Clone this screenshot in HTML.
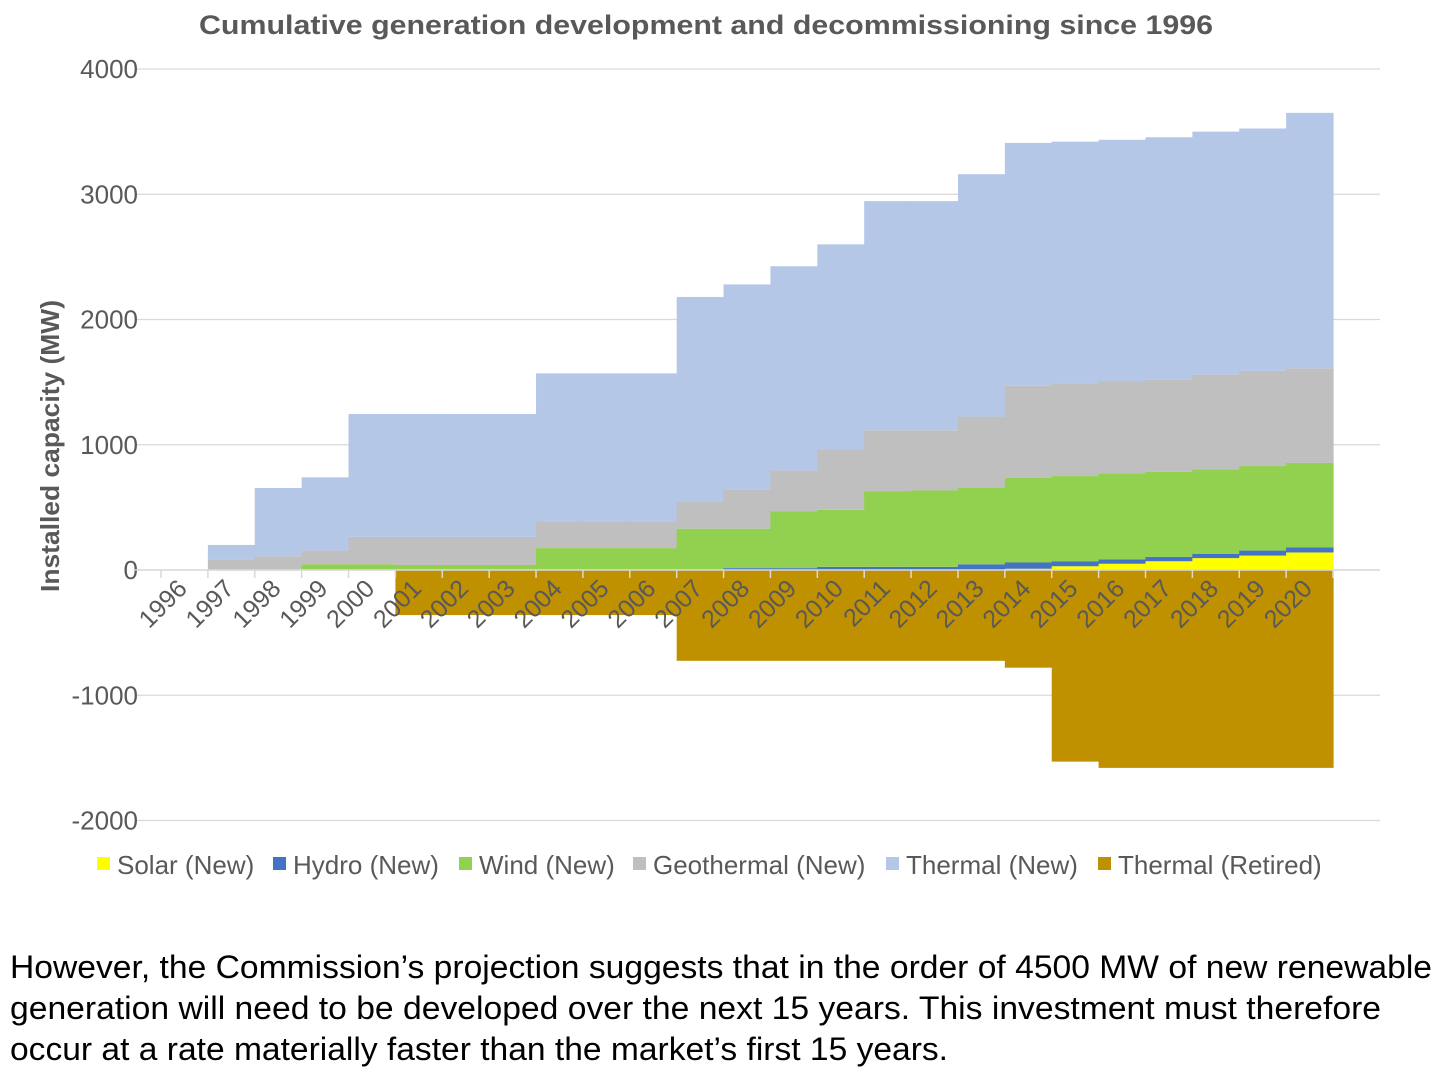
<!DOCTYPE html>
<html><head><meta charset="utf-8"><style>
body{margin:0;background:#fff;width:1456px;height:1084px;overflow:hidden;font-family:"Liberation Sans",sans-serif}
</style></head><body>
<svg id="chart" width="1456" height="1084" xmlns="http://www.w3.org/2000/svg">
<text x="199" y="34" font-size="27" font-weight="bold" fill="#595959" textLength="1014" lengthAdjust="spacingAndGlyphs">Cumulative generation development and decommissioning since 1996</text>
<text transform="translate(59,446) rotate(-90)" text-anchor="middle" font-size="26" font-weight="bold" fill="#595959" textLength="292" lengthAdjust="spacingAndGlyphs">Installed capacity (MW)</text>
<g id="grid"></g><g id="bars"></g><g id="axis"></g><g id="legend"></g>
<g font-size="32" fill="#000">
<text x="10" y="978" textLength="1422" lengthAdjust="spacingAndGlyphs">However, the Commission’s projection suggests that in the order of 4500 MW of new renewable</text>
<text x="10" y="1019" textLength="1371" lengthAdjust="spacingAndGlyphs">generation will need to be developed over the next 15 years. This investment must therefore</text>
<text x="10" y="1060" textLength="938" lengthAdjust="spacingAndGlyphs">occur at a rate materially faster than the market’s first 15 years.</text>
</g>
</svg>
<script>
const years=[1996,1997,1998,1999,2000,2001,2002,2003,2004,2005,2006,2007,2008,2009,2010,2011,2012,2013,2014,2015,2016,2017,2018,2019,2020];
const solar=[0,0,0,0,0,0,0,0,0,0,0,0,0,0,0,0,0,0,10,30,50,70,95,115,140];
const hydro=[0,0,0,5,5,5,5,5,5,5,5,5,15,15,25,25,25,45,50,40,35,35,35,40,40];
const wind=[0,0,0,40,40,35,35,35,170,170,170,325,315,455,455,605,610,615,675,680,685,680,675,675,675];
const geothermal=[0,85,110,110,220,225,225,225,215,215,215,220,315,325,485,485,480,565,735,740,735,735,755,760,755];
const thermal=[0,115,545,585,980,980,980,980,1180,1180,1180,1630,1635,1630,1635,1830,1830,1935,1940,1930,1930,1935,1940,1935,2040];
const retired=[0,0,0,0,0,-360,-360,-360,-360,-360,-360,-725,-725,-725,-725,-725,-725,-725,-780,-1530,-1580,-1580,-1580,-1580,-1580];
const yTicks=[4000,3000,2000,1000,0,-1000,-2000];
const seriesNames=["Solar (New)","Hydro (New)","Wind (New)","Geothermal (New)","Thermal (New)","Thermal (Retired)"];
const NS="http://www.w3.org/2000/svg";
const y=v=>570-v*0.12525;
const x0=161,w=46.88;
const x=i=>x0+i*w;
function mk(tag,attrs,parent){const e=document.createElementNS(NS,tag);for(const k in attrs)e.setAttribute(k,attrs[k]);parent.appendChild(e);return e;}
const grid=document.getElementById('grid'),bars=document.getElementById('bars'),axis=document.getElementById('axis'),legend=document.getElementById('legend');
yTicks.forEach(t=>{
  const l=mk('line',{x1:135,x2:1380,y1:y(t),y2:y(t),stroke:'#d9d9d9','stroke-width':1.3},grid);
  
  
  const tx=mk('text',{x:138,y:y(t)+9,'text-anchor':'end','font-size':26,fill:'#595959'},grid);
  tx.textContent=t;
  
  
});
const colors=['#ffff00','#4472c4','#92d050','#bfbfbf','#b4c7e7'];
const pos=[solar,hydro,wind,geothermal,thermal];
const names=['solar','hydro','wind','geothermal','thermal'];
years.forEach((yr,i)=>{
  let base=0;
  pos.forEach((s,k)=>{
    const v=s[i];
    if(v>0){
      const r=mk('rect',{x:x(i),width:w+0.6,y:y(base+v),height:y(base)-y(base+v),fill:colors[k]},bars);
      
      
    }
    base+=v;
  });
  if(retired[i]<0){
    const r=mk('rect',{x:x(i),width:w+0.6,y:y(0),height:y(retired[i])-y(0),fill:'#bf9000'},bars);
    
    
  }
});
mk('line',{x1:135,x2:1380,y1:570,y2:570,stroke:'#d9d9d9','stroke-width':1.5},axis);
for(let i=0;i<=years.length;i++){mk('line',{x1:x(i),x2:x(i),y1:570,y2:578,stroke:'#d9d9d9','stroke-width':1.5},axis);}
years.forEach((yr,i)=>{
  const cx=x(i)+w/2+4, cy=590;
  const t=mk('text',{x:cx,y:cy,'text-anchor':'end','font-size':25,fill:'#595959',transform:`rotate(-45 ${cx} ${cy})`},axis);
  t.textContent=yr;
  
  
});
const lc=['#ffff00','#4472c4','#92d050','#bfbfbf','#b4c7e7','#bf9000'];
const lx=[97,273,459,633,886,1098];
seriesNames.forEach((n,i)=>{
  const g=mk('g',{},legend);
  
  
  mk('rect',{x:lx[i],y:857,width:13,height:13,fill:lc[i]},g);
  const t=mk('text',{x:lx[i]+20,y:874,'font-size':26,fill:'#595959'},g);
  t.textContent=n;
});
</script>
</body></html>
